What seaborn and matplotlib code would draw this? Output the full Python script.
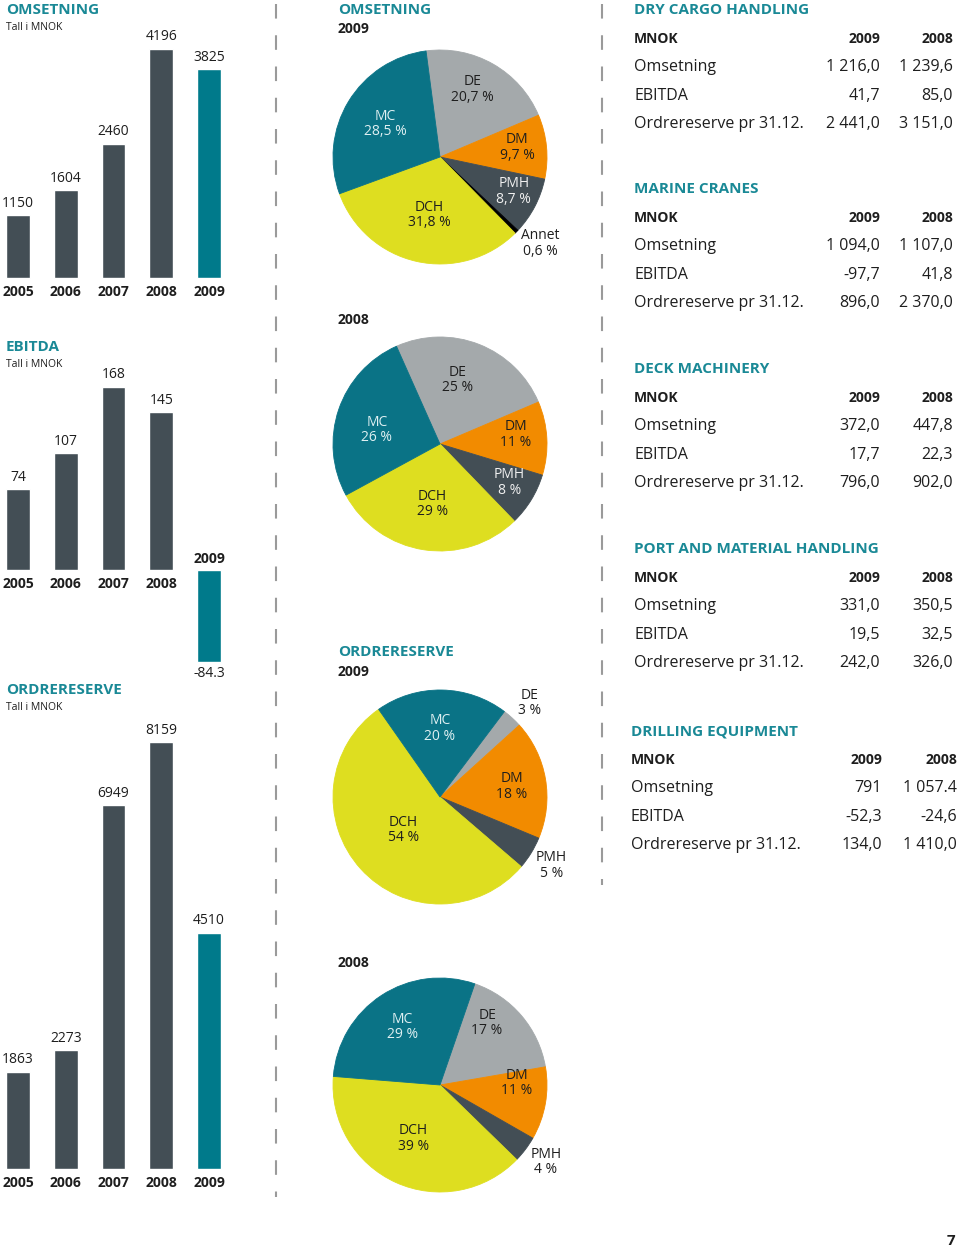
import matplotlib
matplotlib.use("Agg")
import numpy as np
import matplotlib.pyplot as plt
import seaborn as sns
from matplotlib.lines import Line2D

# Figure size in pixels
W, H = 960, 1248

# --- Data: bar charts ---
years = ["2005", "2006", "2007", "2008", "2009"]
omsetning = [1150, 1604, 2460, 4196, 3825]
ebitda = [74, 107, 168, 145, -84.3]
ordrereserve = [1863, 2273, 6949, 8159, 4510]

# --- Data: pies (clockwise order) ---
oms09_names = ["DE", "DM", "PMH", "Annet", "DCH", "MC"]
oms09_values = [20.7, 9.7, 8.7, 0.6, 31.8, 28.5]
oms08_names = ["DE", "DM", "PMH", "DCH", "MC"]
oms08_values = [25, 11, 8, 29, 26]
ord09_names = ["DE", "DM", "PMH", "DCH", "MC"]
ord09_values = [3, 18, 5, 54, 20]
ord08_names = ["DE", "DM", "PMH", "DCH", "MC"]
ord08_values = [17, 11, 4, 39, 29]

# --- Data: segment tables ---
segments = ["DRY CARGO HANDLING", "MARINE CRANES", "DECK MACHINERY",
            "PORT AND MATERIAL HANDLING", "DRILLING EQUIPMENT"]
row_labels = ["Omsetning", "EBITDA", "Ordrereserve pr 31.12."]
vals_2009 = [["1 216,0", "41,7", "2 441,0"],
             ["1 094,0", "-97,7", "896,0"],
             ["372,0", "17,7", "796,0"],
             ["331,0", "19,5", "242,0"],
             ["791", "-52,3", "134,0"]]
vals_2008 = [["1 239,6", "85,0", "3 151,0"],
             ["1 107,0", "41,8", "2 370,0"],
             ["447,8", "22,3", "902,0"],
             ["350,5", "32,5", "326,0"],
             ["1 057.4", "-24,6", "1 410,0"]]

# colours
TEAL = "#007a8b"
TITLE = "#1a8996"
DARK = "#434e55"
LGREY = "#a4a9ab"
ORANGE = "#f28b00"
YELLOW = "#dede20"
TXT = "#1e1e1e"
seg_colors = {"MC": "#0a7386", "DE": LGREY, "DM": ORANGE, "PMH": DARK,
              "DCH": YELLOW, "Annet": "#000000"}
seg_text = {"MC": "#dff0f2", "PMH": "#f0f0f0"}

sns.set_theme(style="white")
plt.rcParams["font.family"] = ["Open Sans", "DejaVu Sans"]

fig = plt.figure(figsize=(W / 100, H / 100), dpi=100)
fig.patch.set_facecolor("white")


def ftext(x, y, s, **kw):
    kw.setdefault("va", "center")
    kw.setdefault("color", TXT)
    fig.text(x / W, 1 - y / H, s, **kw)


def px_axes(x0, y0, w, h):
    return fig.add_axes([x0 / W, 1 - (y0 + h) / H, w / W, h / H])


# ---------- bar charts (left column) ----------
def bar_chart(values, top, bot, base, scale, title, ty):
    ax = px_axes(0, top, 240, bot - top)
    cols = [DARK] * (len(values) - 1) + [TEAL]
    sns.barplot(x=years, y=values, hue=years, palette=cols, legend=False,
                width=0.5, saturation=1, ax=ax)
    ax.set_xlim(-18 / 47.75, (240 - 18) / 47.75)
    ax.set_ylim(-(bot - base) / scale, (base - top) / scale)
    ax.axis("off")
    for i, (yr, v) in enumerate(zip(years, values)):
        if v >= 0:
            ax.annotate(f"{v:g}", (i, v), xytext=(0, 12), textcoords="offset pixels",
                        ha="center", va="center", fontsize=10, color=TXT)
            ax.annotate(yr, (i, 0), xytext=(0, -14), textcoords="offset pixels",
                        ha="center", va="center", fontsize=10, fontweight="bold", color=TXT)
        else:
            ax.annotate(f"{v:g}", (i, v), xytext=(0, -12), textcoords="offset pixels",
                        ha="center", va="center", fontsize=10, color=TXT)
            ax.annotate(yr, (i, 0), xytext=(0, 11), textcoords="offset pixels",
                        ha="center", va="center", fontsize=10, fontweight="bold", color=TXT)
    ftext(6, ty, title, fontsize=11, fontweight="bold", color=TITLE)
    ftext(6, ty + 17, "Tall i MNOK", fontsize=7.5)


bar_chart(omsetning, 30, 300, 278, 229 / 4196, "OMSETNING", 10)
bar_chart(ebitda, 370, 680, 570, 183 / 168, "EBITDA", 347)
bar_chart(ordrereserve, 720, 1210, 1169, 427 / 8159, "ORDRERESERVE", 690)


# ---------- pies (middle column) ----------
def pie(names, values, cx, cy, start, label_pos):
    r = 107
    ax = px_axes(cx - r, cy - r, 2 * r, 2 * r)
    wedges, _ = ax.pie(values, colors=[seg_colors[n] for n in names], startangle=start,
                       counterclock=False, radius=1, wedgeprops=dict(linewidth=0.6))
    for w in wedges:
        w.set_edgecolor(w.get_facecolor())
    ax.set_xlim(-1, 1)
    ax.set_ylim(-1, 1)
    ax.axis("off")
    for n, v, (lx, ly) in zip(names, values, label_pos):
        inside = np.hypot(lx, ly) < 1
        c = seg_text.get(n, TXT) if inside else TXT
        s = f"{n}\n{v:g}".replace(".", ",") + " %"
        ax.text(lx, ly, s, ha="center", va="center", fontsize=10, color=c,
                linespacing=1.05, clip_on=False)


ftext(338, 10, "OMSETNING", fontsize=11, fontweight="bold", color=TITLE)
ftext(338, 29, "2009", fontsize=10, fontweight="bold")
pie(oms09_names, oms09_values, 440, 157, 97.5,
    [(0.30, 0.63), (0.72, 0.09), (0.69, -0.32), (0.94, -0.81), (-0.10, -0.54), (-0.51, 0.31)])

ftext(338, 320, "2008", fontsize=10, fontweight="bold")
pie(oms08_names, oms08_values, 440, 444, 114,
    [(0.16, 0.60), (0.71, 0.09), (0.65, -0.36), (-0.07, -0.56), (-0.59, 0.13)])

ftext(338, 652, "ORDRERESERVE", fontsize=11, fontweight="bold", color=TITLE)
ftext(338, 672, "2009", fontsize=10, fontweight="bold")
pie(ord09_names, ord09_values, 440, 797, 53,
    [(0.84, 0.88), (0.67, 0.10), (1.04, -0.64), (-0.34, -0.31), (0.0, 0.64)])

ftext(338, 963, "2008", fontsize=10, fontweight="bold")
pie(ord08_names, ord08_values, 440, 1085, 71,
    [(0.44, 0.58), (0.72, 0.02), (0.99, -0.72), (-0.25, -0.50), (-0.35, 0.54)])


# ---------- segment tables (right column) ----------
title_y = [10, 189, 369, 549, 731]
for k, seg in enumerate(segments):
    y0 = title_y[k]
    xl, c1, c2 = (631, 882, 957) if k == 4 else (634, 880, 953)
    ftext(xl, y0, seg, fontsize=11, fontweight="bold", color=TITLE)
    ftext(xl, y0 + 29, "MNOK", fontsize=10, fontweight="bold")
    ftext(c1, y0 + 29, "2009", fontsize=10, fontweight="bold", ha="right")
    ftext(c2, y0 + 29, "2008", fontsize=10, fontweight="bold", ha="right")
    for j, lab in enumerate(row_labels):
        yy = y0 + 57 + j * 28.7
        ftext(xl, yy, lab, fontsize=11.5)
        ftext(c1, yy, vals_2009[k][j], fontsize=11.5, ha="right")
        ftext(c2, yy, vals_2008[k][j], fontsize=11.5, ha="right")

# ---------- dashed separators ----------
for x, y1 in [(276, 1197), (602, 885)]:
    fig.add_artist(Line2D([x / W, x / W], [1 - 4 / H, 1 - y1 / H], transform=fig.transFigure,
                          color="#9a9a9a", linewidth=1.5, dashes=(7, 8)))

ftext(951, 1241, "7", fontsize=11, fontweight="bold", ha="center")

fig.savefig("out.png", dpi=100, facecolor="white")
